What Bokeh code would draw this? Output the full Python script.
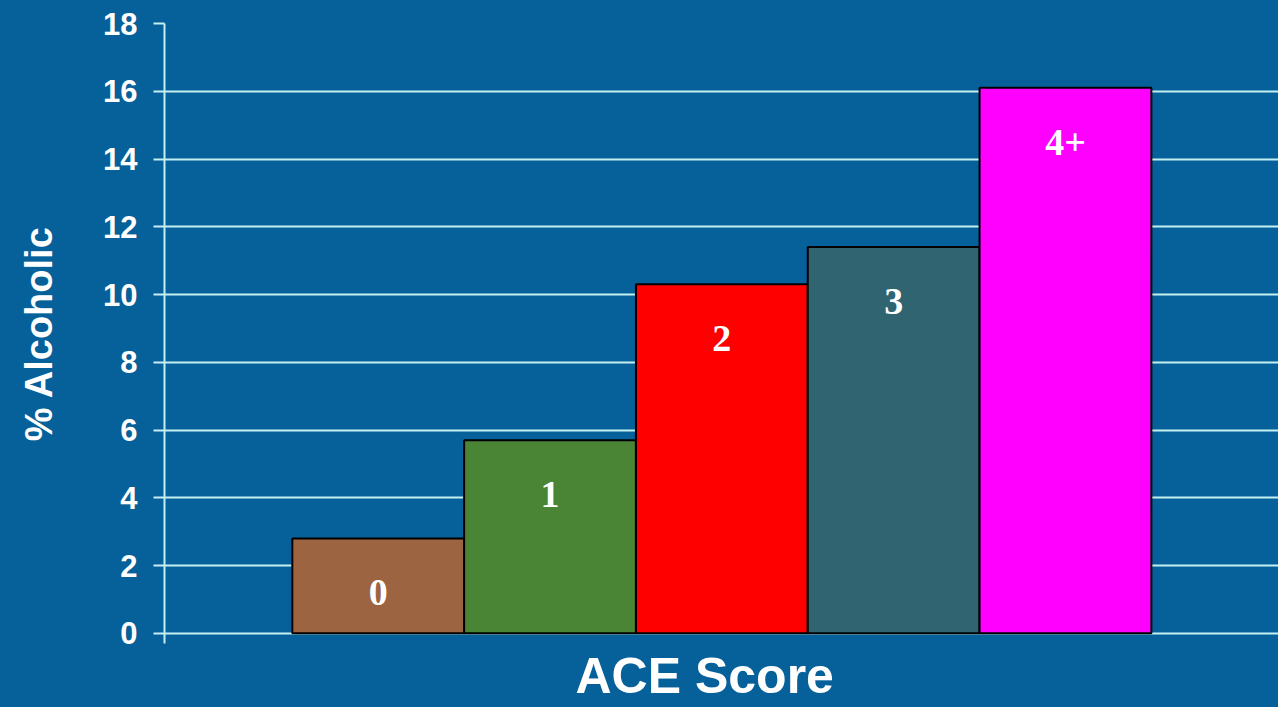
from bokeh.plotting import figure
from bokeh.models import Range1d, ColumnDataSource, FixedTicker, Title
from bokeh.core.properties import value
from bokeh.embed import file_html
from bokeh.resources import INLINE

categories = ["0", "1", "2", "3", "4+"]
percent_alcoholic = [2.8, 5.7, 10.3, 11.4, 16.1]
bar_colors = ["#9c6441", "#4a8535", "#ff0000", "#2f6470", "#ff00ff"]
y_ticks = [0, 2, 4, 6, 8, 10, 12, 14, 16, 18]

BG = "#06609a"
GRID = "#c4f0f2"

idx = list(range(len(categories)))
src = ColumnDataSource(dict(
    x=idx,
    top=percent_alcoholic,
    color=bar_colors,
    label=categories,
    label_y=[v - 1.6 for v in percent_alcoholic],
))

p = figure(width=1278, height=707, output_backend="svg", toolbar_location=None,
           x_range=Range1d(-1.244, 5.24), y_range=Range1d(-0.3, 18),
           background_fill_color=BG, border_fill_color=BG,
           min_border_left=164, min_border_right=0, min_border_top=23,
           min_border_bottom=0, outline_line_color=None,
           styles={"background-color": BG})

p.vbar(x="x", top="top", bottom=0, width=1.0, fill_color="color",
       line_color="black", line_width=2, source=src)

p.text(x="x", y="label_y", text="label", source=src, text_color="white",
       text_font=value("Liberation Serif"), text_font_style="bold",
       text_font_size="38px", text_align="center", text_baseline="middle")

p.xgrid.visible = False
p.ygrid.grid_line_color = GRID
p.ygrid.grid_line_width = 2
p.ygrid.ticker = FixedTicker(ticks=y_ticks)

p.yaxis.ticker = FixedTicker(ticks=y_ticks)
p.yaxis.axis_line_color = GRID
p.yaxis.axis_line_width = 2
p.yaxis.major_tick_line_color = GRID
p.yaxis.major_tick_line_width = 2
p.yaxis.major_tick_out = 11
p.yaxis.major_tick_in = 0
p.yaxis.minor_tick_line_color = None
p.yaxis.major_label_standoff = 16
p.yaxis.major_label_text_color = "white"
p.yaxis.major_label_text_font = "Liberation Sans"
p.yaxis.major_label_text_font_style = "bold"
p.yaxis.major_label_text_font_size = "31px"
p.yaxis.axis_label = "% Alcoholic"
p.yaxis.axis_label_text_color = "white"
p.yaxis.axis_label_text_font = "Liberation Sans"
p.yaxis.axis_label_text_font_style = "bold"
p.yaxis.axis_label_text_font_size = "38px"
p.yaxis.axis_label_standoff = 40

p.xaxis.visible = False

xlabel = Title(text="ACE Score", align="left", text_color="white",
               text_font="Liberation Sans", text_font_style="bold",
               text_font_size="50px", standoff=4, offset=411)
p.add_layout(xlabel, "below")
p.min_border_bottom = 64

html = file_html(p, INLINE)
html = html.replace("</head>", "<style>html, body { background-color: %s; }</style></head>" % BG, 1)
open("out.html", "w").write(html)
